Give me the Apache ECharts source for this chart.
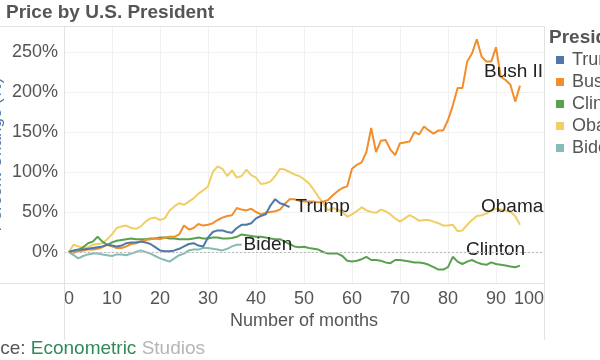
<!DOCTYPE html>
<html>
<head>
<meta charset="utf-8">
<script src="https://cdn.jsdelivr.net/npm/echarts@6/dist/echarts.min.js"></script>
<style>html,body{margin:0;padding:0;background:#fff;}#c{width:600px;height:360px;}</style>
</head>
<body>
<div id="c"></div>
<script>
var presidents = ['Trump', 'Bush II', 'Clinton', 'Obama', 'Biden'];
var colors = ['#4e79a7', '#f28e2b', '#59a14f', '#f1ce63', '#86bcb6'];
var yTicks = [0, 50, 100, 150, 200, 250];

// % change, one value per month starting at month 1
var trump = [0,2,3,3,4,5,6,7,9,8, 7,8,11,12,12,13,12,10,6,2, 1,1,2,4,7,10,11,8,7,18,
  25,27,27,25,24,30,34,34,36,42, 45,47,58,66,61,59,56];
var bush = [0,-1,1,2,3,3,4,6,9,7, 5,5,7,10,11,13,15,16,17,16, 18,19,19,22,33,28,30,35,33,34,
  36,40,43,45,46,55,53,52,54,50, 47,49,50,51,53,60,66,66,64,63, 63,63,62,63,65,71,76,80,82,104,
  109,112,125,155,125,139,140,128,121,136, 137,138,150,147,157,152,148,152,152,165,
  183,205,205,238,248,266,244,238,238,256, 219,215,209,188,208];
var clinton = [0,1,2,6,11,13,19,13,9,12, 14,15,16,17,16,16,16,17,17,18, 18,17,17,16,16,16,17,18,17,17,
  18,18,17,17,17.5,19,22,21,20,19, 19,18,17,16,16,13,10,7,6,6.5, 5,4,3,0,-2,-2,-2,-5,-11,-12,
  -11,-9,-6,-10,-10,-11,-13,-14,-10,-10, -11,-12,-13,-13,-14,-16,-19,-22,-22,-19,
  -6,-12,-15,-12,-10,-13,-15,-16,-13,-15, -16,-17,-18,-19,-17];
var obama = [0,9,7,5,6,9,10,11,16,22, 30,32,33,30,29,32,38,42,43,40, 42,52,57,61,59,63,67,73,77,82,
  100,107,104,95,102,93,95,103,96,93, 85,86,88,95,104,103,100,97,95,91, 86,78,69,61,52,55,53,50,44,47,
  51,56,52,50,49,53,51,47,42,38, 42,46,43,39,40,40,38,36,33,33,
  34,26,27,34,40,45,46,48,52,54, 53,52,50,45,34];
var biden = [0,-4,-8,-5,-3,-2,-2,-3,-4,-5, -3,-3,-4,-2,0,2,0,-2,-5,-8, -10,-12,-8,-4,-2,2,3,3,5,5,
  4,3,2,4,7,9,9];

var seriesValues = {'Trump': trump, 'Bush II': bush, 'Clinton': clinton, 'Obama': obama, 'Biden': biden};
var labelOffsets = {'Trump': [-2, 0], 'Bush II': [-44, -14], 'Clinton': [-62, -16], 'Obama': [-47, -18], 'Biden': [-6, 0]};
var drawOrder = ['Obama', 'Clinton', 'Biden', 'Bush II', 'Trump'];

function pairs(arr) { return arr.map(function (v, i) { return [i + 1, v]; }); }

var FONT = '"Liberation Sans", Arial, sans-serif';
var series = drawOrder.map(function (name) {
  var idx = presidents.indexOf(name);
  return {
    name: name, type: 'line', data: pairs(seriesValues[name]),
    showSymbol: false, symbol: 'none', smooth: false,
    lineStyle: { width: 2, color: colors[idx] }, itemStyle: { color: colors[idx] },
    z: 3,
    endLabel: { show: true, formatter: name, color: '#222', fontSize: 19, fontFamily: FONT, offset: labelOffsets[name] }
  };
});
series.unshift({
  name: '_ref', type: 'line', data: [], silent: true, z: 1,
  markLine: { silent: true, symbol: 'none', label: { show: false },
    lineStyle: { color: '#bbb', type: [2, 2], width: 1 }, data: [{ yAxis: 0 }] }
});

var chart = echarts.init(document.getElementById('c'), null, { renderer: 'canvas' });
chart.setOption({
  animation: false,
  color: colors,
  title: { text: 'Price by U.S. President', left: 6, top: 3, padding: 0,
    textStyle: { fontSize: 19, fontWeight: 'bold', color: '#555', fontFamily: FONT } },
  grid: { left: 64, right: 56, top: 26, bottom: 77, containLabel: false, outerBoundsMode: 'none' },
  xAxis: {
    type: 'value', min: 0, max: 100, interval: 10,
    name: 'Number of months', nameLocation: 'middle', nameGap: 29, nameMoveOverlap: false,
    nameTextStyle: { fontSize: 18, color: '#555', fontFamily: FONT },
    axisLine: { show: false }, axisTick: { show: false },
    axisLabel: { fontSize: 18, color: '#555', fontFamily: FONT, margin: 7, alignMinLabel: 'left', alignMaxLabel: 'right' },
    splitLine: { show: true, lineStyle: { color: '#f0f0f0', width: 1 } }
  },
  yAxis: {
    type: 'value', min: -38.75, max: 282.5,
    name: 'Percent Change (%)', nameLocation: 'middle', nameGap: 59, nameMoveOverlap: false,
    nameTextStyle: { fontSize: 17, color: '#4e79a7', fontFamily: FONT },
    axisLine: { show: false }, axisTick: { show: false, customValues: yTicks },
    axisLabel: { fontSize: 18, color: '#555', fontFamily: FONT, margin: 6, customValues: yTicks, formatter: '{value}%' },
    splitLine: { show: true, lineStyle: { color: '#f0f0f0', width: 1 } }
  },
  legend: {
    orient: 'vertical', left: 556, top: 51, padding: 0, itemWidth: 8, itemHeight: 8, itemGap: 4,
    icon: 'rect', data: presidents, selectedMode: false,
    textStyle: { fontSize: 18, color: '#555', fontFamily: FONT, padding: [0, 0, 0, 3] }
  },
  graphic: [
    { type: 'line', shape: { x1: 0, y1: 26.5, x2: 544, y2: 26.5 }, style: { stroke: '#e2e2e2', lineWidth: 1 }, z: 10 },
    { type: 'line', shape: { x1: 0, y1: 283.5, x2: 544, y2: 283.5 }, style: { stroke: '#e2e2e2', lineWidth: 1 }, z: 10 },
    { type: 'line', shape: { x1: 64.5, y1: 26, x2: 64.5, y2: 340 }, style: { stroke: '#e2e2e2', lineWidth: 1 }, z: 10 },
    { type: 'line', shape: { x1: 544.5, y1: 26, x2: 544.5, y2: 340 }, style: { stroke: '#e2e2e2', lineWidth: 1 }, z: 10 },
    { type: 'text', left: 549, top: 28, style: { text: 'President', fontSize: 19, fontWeight: 'bold', fill: '#555', fontFamily: FONT } },
    { type: 'text', left: -40, top: 339, style: {
      text: '{a|Source: }{b|Econometric}{c| Studios}', fontFamily: FONT,
      rich: { a: { fontSize: 19, fill: '#555', color: '#555', fontFamily: FONT },
              b: { fontSize: 19, fill: '#2e8b57', color: '#2e8b57', fontFamily: FONT },
              c: { fontSize: 19, fill: '#b5b5b5', color: '#b5b5b5', fontFamily: FONT } } } }
  ],
  series: series
});
</script>
</body>
</html>
